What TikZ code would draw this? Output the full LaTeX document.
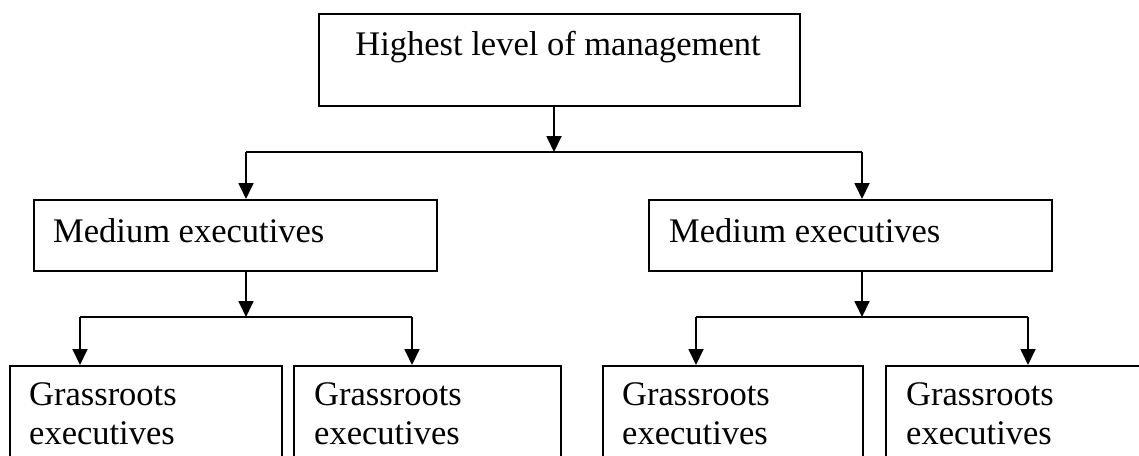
\documentclass[tikz,border=0pt]{standalone}
\usepackage{fontspec}
\setmainfont{Liberation Serif}
\usetikzlibrary{arrows.meta}
\begin{document}
\begin{tikzpicture}[x=1pt,y=-1pt,
  box/.style={draw, line width=1.8pt, inner sep=0pt, anchor=north west},
  lbl/.style={inner sep=0pt, font=\fontsize{34.5}{39}\selectfont},
  link/.style={line width=1.8pt},
  arr/.style={line width=1.8pt, -{Triangle[width=15pt,length=16pt]}}]
\useasboundingbox (0,0) rectangle (1139,455);
\clip (0,0) rectangle (1139,455);
% boxes
\node[box, minimum width=481pt, minimum height=92pt] (top) at (318,13) {};
\node[lbl, anchor=base] (topt) at (558,55) {Highest level of management};
\node[box, minimum width=403pt, minimum height=71pt] (mL) at (33,199) {};
\node[lbl, anchor=base west] (mLt) at (53,242) {Medium executives};
\node[box, minimum width=403pt, minimum height=71pt] (mR) at (648,199) {};
\node[lbl, anchor=base west] (mRt) at (669,242) {Medium executives};
\node[box, minimum width=272pt, minimum height=140pt] (g1) at (9,365) {};
\node[box, minimum width=267pt, minimum height=140pt] (g2) at (293,365) {};
\node[box, minimum width=260pt, minimum height=140pt] (g3) at (602,365) {};
\node[box, minimum width=280pt, minimum height=140pt] (g4) at (885,365) {};
\node[lbl, anchor=base west] (g1a) at (29,405) {Grassroots};
\node[lbl, anchor=base west] (g1b) at (29,444) {executives};
\node[lbl, anchor=base west] (g2a) at (314,405) {Grassroots};
\node[lbl, anchor=base west] (g2b) at (314,444) {executives};
\node[lbl, anchor=base west] (g3a) at (622,405) {Grassroots};
\node[lbl, anchor=base west] (g3b) at (622,444) {executives};
\node[lbl, anchor=base west] (g4a) at (906,405) {Grassroots};
\node[lbl, anchor=base west] (g4b) at (906,444) {executives};
% junctions
\coordinate (j0) at (554,152);
\coordinate (j0l) at (246,152);
\coordinate (j0r) at (862,152);
\coordinate (jL) at (246,317);
\coordinate (jLl) at (80,317);
\coordinate (jLr) at (412,317);
\coordinate (jR) at (862,317);
\coordinate (jRl) at (696,317);
\coordinate (jRr) at (1028,317);
% connectors
\draw[arr] (top.south -| j0) -- (j0);
\draw[link] (j0l) -- (j0r);
\draw[arr] (j0l) -- (j0l |- mL.north);
\draw[arr] (j0r) -- (j0r |- mR.north);
\draw[arr] (mL.south -| jL) -- (jL);
\draw[link] (jLl) -- (jLr);
\draw[arr] (jLl) -- (jLl |- g1.north);
\draw[arr] (jLr) -- (jLr |- g2.north);
\draw[arr] (mR.south -| jR) -- (jR);
\draw[link] (jRl) -- (jRr);
\draw[arr] (jRl) -- (jRl |- g3.north);
\draw[arr] (jRr) -- (jRr |- g4.north);
\end{tikzpicture}
\end{document}
